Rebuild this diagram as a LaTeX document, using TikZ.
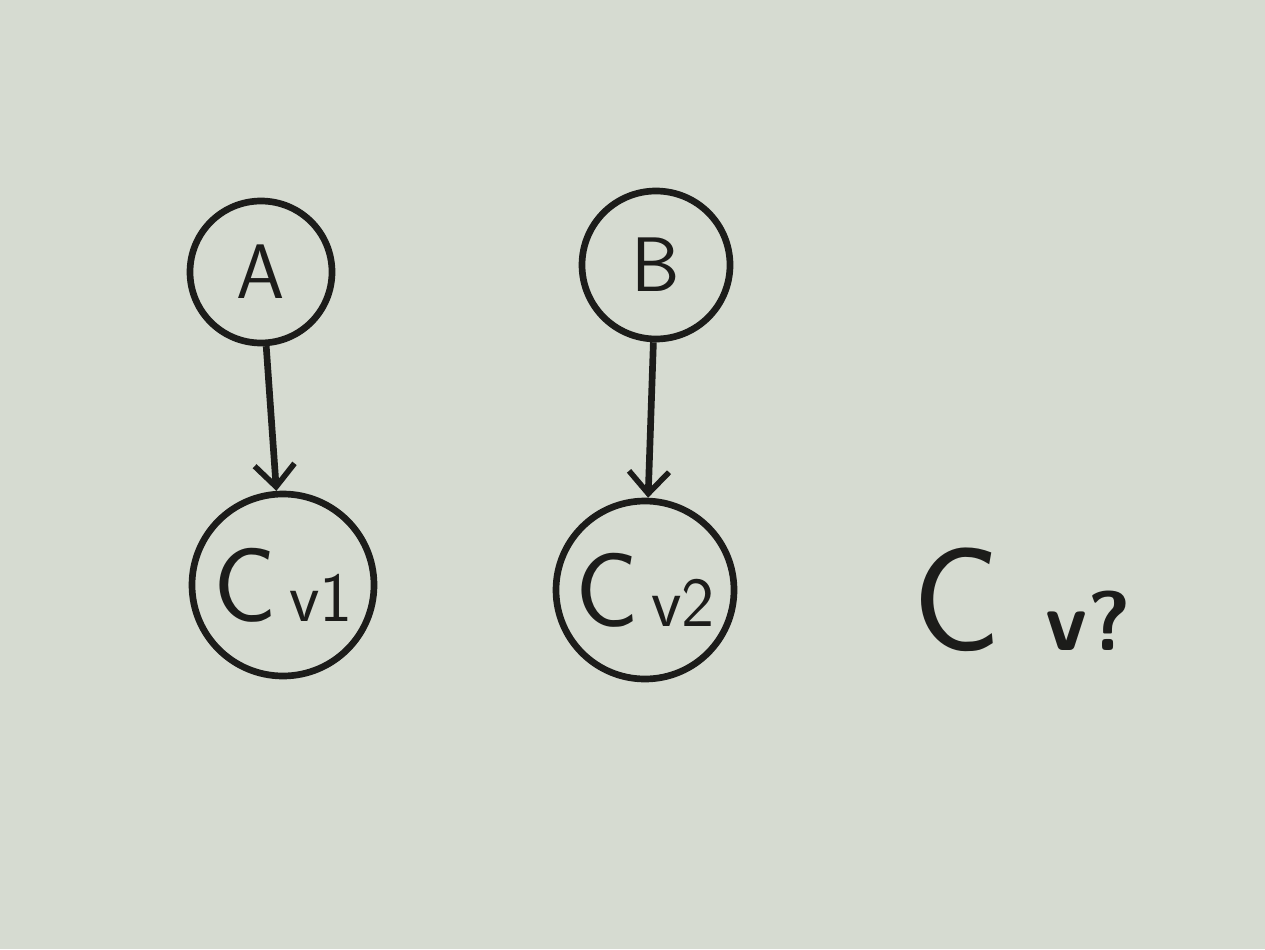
\documentclass[tikz,border=0pt]{standalone}
\usepackage{amsmath,amssymb}
\usepackage{xcolor}
\usepackage{tikz}
\usetikzlibrary{positioning,arrows.meta}
\definecolor{board}{RGB}{214,219,209}
\definecolor{marker}{RGB}{28,28,26}
\newcommand{\cvar}[1]{C\kern0.12em{\fontsize{20}{22}\selectfont #1}}

\begin{document}
\begin{tikzpicture}[
    var/.style={circle,draw=marker,line width=1.9pt,inner sep=0pt,text=marker,font=\sffamily},
    edge/.style={draw=marker,line width=1.9pt,-{Straight Barb[length=2.2mm,width=4mm,line width=1.6pt]}}
  ]
  \fill[board] (0,0) rectangle (12.65,9.49);
  \useasboundingbox (0,0) rectangle (12.65,9.49);
  \node[var,minimum size=1.42cm,font=\sffamily\fontsize{22}{26}\selectfont] (A) at (2.61,6.77) {A};
  \node[var,minimum size=1.48cm,font=\sffamily\fontsize{22}{26}\selectfont] (B) at (6.56,6.84) {B};
  \node[var,minimum size=1.82cm,font=\sffamily\fontsize{30}{36}\selectfont] (cv1) at (2.83,3.64) {\cvar{v1}};
  \node[var,minimum size=1.78cm,font=\sffamily\fontsize{30}{36}\selectfont] (cv2) at (6.45,3.59) {\cvar{v2}};
  \node[font=\sffamily\fontsize{40}{46}\selectfont,text=marker] (cv3) at (10.22,3.49)
    {\fontsize{42}{48}\selectfont C\kern0.3em{\fontsize{24}{28}\selectfont\bfseries v?}};
  \draw[edge] (A) -- (cv1);
  \draw[edge] (B) -- (cv2);
\end{tikzpicture}
\end{document}
